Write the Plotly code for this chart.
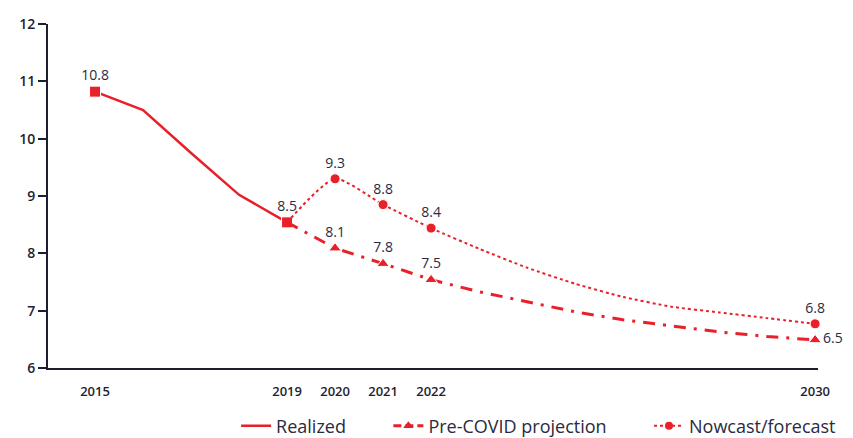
import plotly.graph_objects as go

# ---- data ----
realized_years = [2015, 2016, 2017, 2018, 2019]
realized_vals = [10.82, 10.5, 9.75, 9.02, 8.54]
realized_labels = ["10.8", "", "", "", "8.5"]

precovid_years = [2019, 2020, 2021, 2022, 2023, 2024, 2025, 2026, 2027, 2028, 2029, 2030]
precovid_vals = [8.54, 8.09, 7.82, 7.54, 7.33, 7.15, 6.98, 6.84, 6.73, 6.63, 6.55, 6.49]
precovid_labels = ["", "8.1", "7.8", "7.5", "", "", "", "", "", "", "", "6.5"]

nowcast_years = [2019, 2020, 2021, 2022, 2023, 2024, 2025, 2026, 2027, 2028, 2029, 2030]
nowcast_vals = [8.54, 9.30, 8.85, 8.44, 8.08, 7.75, 7.47, 7.24, 7.07, 6.97, 6.87, 6.77]
nowcast_labels = ["", "9.3", "8.8", "8.4", "", "", "", "", "", "", "", "6.8"]

series_names = ["Realized", "Pre-COVID projection", "Nowcast/forecast"]

x_ticks = [2015, 2019, 2020, 2021, 2022, 2030]
y_ticks = [6, 7, 8, 9, 10, 11, 12]

RED = "#E8202A"
TXT = "#2a2a40"
AX = "#1e1e30"
FONT = "Open Sans"
PAD = "\u00a0" * 8

def msize(labels, s):
    return [s if l else 0 for l in labels]

fig = go.Figure()

# Realized
fig.add_trace(go.Scatter(
    x=realized_years, y=realized_vals, name=series_names[0],
    mode="lines+markers+text", cliponaxis=False,
    line=dict(color=RED, width=2.5),
    marker=dict(symbol="square", color=RED, opacity=1, size=msize(realized_labels, 11)),
    text=realized_labels, textposition="top center",
    textfont=dict(color=TXT, size=14, family=FONT),
    showlegend=False,
))
fig.add_trace(go.Scatter(
    x=[None], y=[None], name=series_names[0] + PAD, mode="lines",
    line=dict(color=RED, width=2.5),
))

# Pre-COVID projection
pc_pos = ["middle right" if l == "6.5" else "top center" for l in precovid_labels]
fig.add_trace(go.Scatter(
    x=precovid_years, y=precovid_vals, name=series_names[1],
    mode="lines+markers+text", cliponaxis=False,
    line=dict(color=RED, width=3, dash="12px,8px,3px,8px"),
    marker=dict(symbol="triangle-up", color=RED, opacity=1, size=msize(precovid_labels, 11)),
    text=precovid_labels, textposition=pc_pos,
    textfont=dict(color=TXT, size=14, family=FONT),
    showlegend=False,
))
fig.add_trace(go.Scatter(
    x=[None], y=[None], name=series_names[1] + PAD, mode="lines+markers",
    line=dict(color=RED, width=3, dash="8px,4px"),
    marker=dict(symbol="triangle-up", color=RED, size=9),
))

# Nowcast / forecast
fig.add_trace(go.Scatter(
    x=nowcast_years, y=nowcast_vals, name=series_names[2],
    mode="lines+markers+text", cliponaxis=False,
    line=dict(color=RED, width=2, dash="dot", shape="spline", smoothing=0.6),
    marker=dict(symbol="circle", color=RED, opacity=1, size=msize(nowcast_labels, 10)),
    text=nowcast_labels, textposition="top center",
    textfont=dict(color=TXT, size=14, family=FONT),
    showlegend=False,
))
fig.add_trace(go.Scatter(
    x=[None], y=[None], name=series_names[2], mode="lines+markers",
    line=dict(color=RED, width=2, dash="dot"),
    marker=dict(symbol="circle", color=RED, size=8),
))

# The page body has an 8px default margin, so the figure is 8px smaller
fig.update_layout(
    width=845, height=430,
    margin=dict(l=40, r=35, t=16, b=70, autoexpand=False),
    plot_bgcolor="white", paper_bgcolor="white",
    font=dict(family=FONT, color=TXT, size=13),
    legend=dict(orientation="h", x=1.03, xanchor="right", y=-0.115, yanchor="top",
                font=dict(size=18, color=TXT, family=FONT), itemwidth=30,
                tracegroupgap=0),
)
fig.update_xaxes(
    range=[2014.02, 2030.06], tickvals=x_ticks, ticktext=[str(v) for v in x_ticks],
    showgrid=False, zeroline=False, showline=True, linecolor=AX, linewidth=2,
    ticks="", ticklabelstandoff=10,
    tickfont=dict(family=FONT, size=13, color=AX, weight=600),
)
fig.update_yaxes(
    range=[6, 12], tickvals=y_ticks,
    showgrid=False, zeroline=False, showline=True, linecolor=AX, linewidth=2,
    ticks="outside", ticklen=8, tickwidth=2, tickcolor=AX,
    tickfont=dict(family=FONT, size=14, color=AX, weight=600),
)

fig.write_html("out.html")
